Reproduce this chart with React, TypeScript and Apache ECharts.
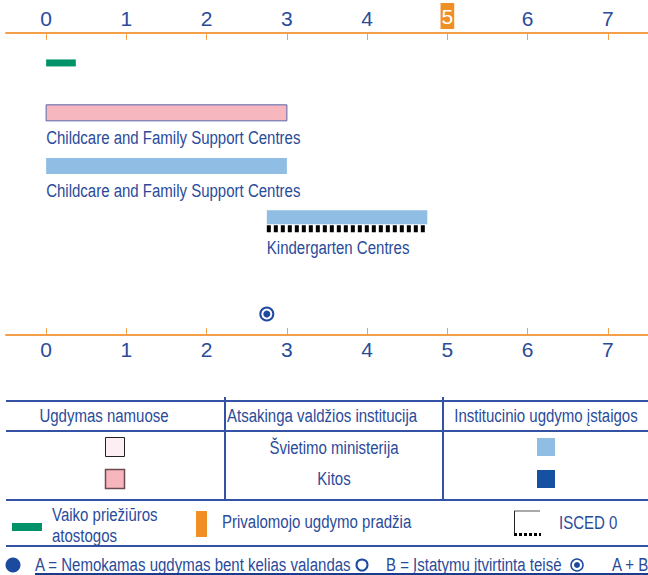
import React, { useEffect, useRef } from "react";
import * as echarts from "echarts";

const FONT = '"Liberation Sans", Arial, sans-serif';
const TXT = "#2a4b9a";
const LINE = "#3352a3";
const ORANGE = "#f4a04a";
const SX = 0.79; // narrow look

// Data
const ageTicks = [0, 1, 2, 3, 4, 5, 6, 7];
const compulsoryAge = 5;
const leaveStart = [0];
const leaveEnd = [0.37];
const leaveRow = [0.57];
const serviceNames = [
  "Childcare and Family Support Centres",
  "Childcare and Family Support Centres",
  "Kindergarten Centres",
];
const serviceStart = [0, 0, 2.75];
const serviceEnd = [3, 3, 4.75];
const serviceRow = [1.52, 2.53, 3.51];
const serviceAuthority = ["other", "ministry", "ministry"];
const serviceIsced = [0, 0, 1];
const entitlementAge = [2.75];
const entitlementRow = [5.35];

const headers = ["Ugdymas namuose", "Atsakinga valdžios institucija", "Institucinio ugdymo įstaigos"];
const authorities = ["Švietimo ministerija", "Kitos"];

const font19 = `19px ${FONT}`;
function txt(text: string, x: number, y: number, align = "left") {
  return {
    type: "text",
    x,
    y,
    scaleX: SX,
    style: { text, x: 0, y: 0, fill: TXT, font: font19, align, verticalAlign: "middle" },
  };
}

export default function App() {
  const ref = useRef<HTMLDivElement>(null);
  useEffect(() => {
    document.body.style.margin = "0";
    const chart = echarts.init(ref.current!, undefined, { renderer: "svg" });

    const serviceData = serviceStart.map((s, i) => [s, serviceEnd[i], serviceRow[i], serviceIsced[i]]);

    const axisCommon = {
      type: "value",
      min: -0.5,
      max: 7.5,
      axisLine: { show: true, lineStyle: { color: ORANGE, width: 2 } },
      splitLine: { show: false },
    };

    const option: any = {
      animation: false,
      grid: { left: 6, right: 0, top: 33, height: 302 },
      xAxis: [
        {
          ...axisCommon,
          position: "top",
          axisTick: { show: true, inside: true, length: 7, customValues: ageTicks, lineStyle: { color: ORANGE, width: 1 } },
          axisLabel: {
            customValues: ageTicks,
            margin: 4,
            color: TXT,
            fontSize: 21,
            fontFamily: FONT,
            formatter: (v: number) => (v === compulsoryAge ? `{hl|${v}}` : `${v}`),
            rich: {
              hl: { backgroundColor: "#ef8f26", color: "#fff", fontSize: 21, fontFamily: FONT, padding: [3, 1, 2, 1] },
            },
          },
        },
        {
          ...axisCommon,
          position: "bottom",
          axisTick: { show: true, inside: true, length: 7, customValues: ageTicks, lineStyle: { color: ORANGE, width: 1 } },
          axisLabel: { customValues: ageTicks, margin: 4, color: TXT, fontSize: 21, fontFamily: FONT },
        },
      ],
      yAxis: { type: "value", min: 0, max: 5.75, inverse: true, show: false },
      series: [
        {
          type: "custom",
          clip: false,
          data: leaveStart.map((s, i) => [s, leaveEnd[i], leaveRow[i]]),
          renderItem: (params: any, api: any) => {
            const a = api.coord([api.value(0), api.value(2)]);
            const b = api.coord([api.value(1), api.value(2)]);
            return { type: "rect", shape: { x: a[0], y: a[1] - 3.5, width: b[0] - a[0], height: 7 }, style: { fill: "#00936a" } };
          },
        },
        {
          type: "custom",
          clip: false,
          data: serviceData,
          renderItem: (params: any, api: any) => {
            const i = params.dataIndex;
            const a = api.coord([api.value(0), api.value(2)]);
            const b = api.coord([api.value(1), api.value(2)]);
            const isced = api.value(3) === 1;
            const h = isced ? 14 : 16;
            const other = serviceAuthority[i] === "other";
            const top = a[1] - h / 2;
            const children: any[] = [
              {
                type: "rect",
                shape: { x: a[0], y: top, width: b[0] - a[0], height: h },
                style: other
                  ? { fill: "#f7b7bf", stroke: "#5866aa", lineWidth: 1 }
                  : { fill: serviceAuthority[i] === "ministry" ? "#8fbde3" : "#1550a0" },
              },
            ];
            let bottom = top + h;
            if (isced) {
              children.push({
                type: "line",
                shape: { x1: a[0], y1: bottom + 4.5, x2: b[0], y2: bottom + 4.5 },
                style: { stroke: "#000", lineWidth: 7, lineDash: [4, 3] },
              });
              bottom += 7;
            }
            children.push(txt(serviceNames[i], a[0], bottom + 17));
            return { type: "group", children };
          },
        },
        {
          type: "custom",
          clip: false,
          data: entitlementAge.map((v, i) => [v, entitlementRow[i]]),
          renderItem: (params: any, api: any) => {
            const p = api.coord([api.value(0), api.value(1)]);
            return {
              type: "group",
              children: [
                { type: "circle", shape: { cx: p[0], cy: p[1], r: 6.5 }, style: { fill: "#fff", stroke: "#1f48a0", lineWidth: 2 } },
                { type: "circle", shape: { cx: p[0], cy: p[1], r: 3.5 }, style: { fill: "#1f48a0" } },
              ],
            };
          },
        },
      ],
      graphic: [
        // table lines
        { type: "line", shape: { x1: 6, y1: 401, x2: 648, y2: 401 }, style: { stroke: LINE, lineWidth: 2 } },
        { type: "line", shape: { x1: 6, y1: 431, x2: 648, y2: 431 }, style: { stroke: LINE, lineWidth: 2 } },
        { type: "line", shape: { x1: 225, y1: 397, x2: 225, y2: 500 }, style: { stroke: LINE, lineWidth: 2 } },
        { type: "line", shape: { x1: 443, y1: 397, x2: 443, y2: 500 }, style: { stroke: LINE, lineWidth: 2 } },
        { type: "line", shape: { x1: 6, y1: 500, x2: 648, y2: 500 }, style: { stroke: LINE, lineWidth: 2 } },
        { type: "line", shape: { x1: 6, y1: 546, x2: 648, y2: 546 }, style: { stroke: LINE, lineWidth: 2 } },
        // headers
        txt(headers[0], 104, 416, "center"),
        txt(headers[1], 227, 416),
        txt(headers[2], 546, 416, "center"),
        txt(authorities[0], 334, 448, "center"),
        txt(authorities[1], 334, 479, "center"),
        // squares
        { type: "rect", shape: { x: 105.5, y: 437.5, width: 19, height: 19 }, style: { fill: "#fdeef3", stroke: "#222", lineWidth: 1 } },
        { type: "rect", shape: { x: 105.5, y: 469.5, width: 19, height: 19 }, style: { fill: "#f7b6be", stroke: "#6d4a50", lineWidth: 1.5 } },
        { type: "rect", shape: { x: 537, y: 438, width: 18, height: 18 }, style: { fill: "#8fbde3" } },
        { type: "rect", shape: { x: 537, y: 470, width: 18, height: 18 }, style: { fill: "#1650a0" } },
        // legend row
        { type: "rect", shape: { x: 12, y: 523, width: 30, height: 8 }, style: { fill: "#00936a" } },
        txt("Vaiko priežiūros", 52, 515),
        txt("atostogos", 52, 536),
        { type: "rect", shape: { x: 196, y: 511, width: 11, height: 26 }, style: { fill: "#ef8f26" } },
        txt("Privalomojo ugdymo pradžia", 222, 522),
        { type: "line", shape: { x1: 514, y1: 511, x2: 540, y2: 511 }, style: { stroke: "#555", lineWidth: 1 } },
        { type: "line", shape: { x1: 514.5, y1: 511, x2: 514.5, y2: 536 }, style: { stroke: "#222", lineWidth: 1 } },
        { type: "line", shape: { x1: 514, y1: 534.5, x2: 541, y2: 534.5 }, style: { stroke: "#000", lineWidth: 3, lineDash: [3, 2] } },
        txt("ISCED 0", 559, 523),
        // bottom row
        { type: "circle", shape: { cx: 13, cy: 565, r: 7.5 }, style: { fill: "#1c4a9e" } },
        txt("A = Nemokamas ugdymas bent kelias valandas", 35, 565),
        { type: "circle", shape: { cx: 362, cy: 565, r: 5.5 }, style: { fill: "#fff", stroke: "#1c4a9e", lineWidth: 2 } },
        txt("B = Įstatymu įtvirtinta teisė", 386, 565),
        { type: "circle", shape: { cx: 577, cy: 565, r: 6 }, style: { fill: "#fff", stroke: "#1c4a9e", lineWidth: 1.5 } },
        { type: "circle", shape: { cx: 577, cy: 565, r: 3 }, style: { fill: "#1c4a9e" } },
        txt("A + B", 612, 565),
        { type: "line", shape: { x1: 35, y1: 574, x2: 648, y2: 574 }, style: { stroke: "#1b3b8f", lineWidth: 2 } },
      ],
    };
    chart.setOption(option);
    return () => chart.dispose();
  }, []);
  return <div ref={ref} style={{ width: 648, height: 575 }} />;
}
